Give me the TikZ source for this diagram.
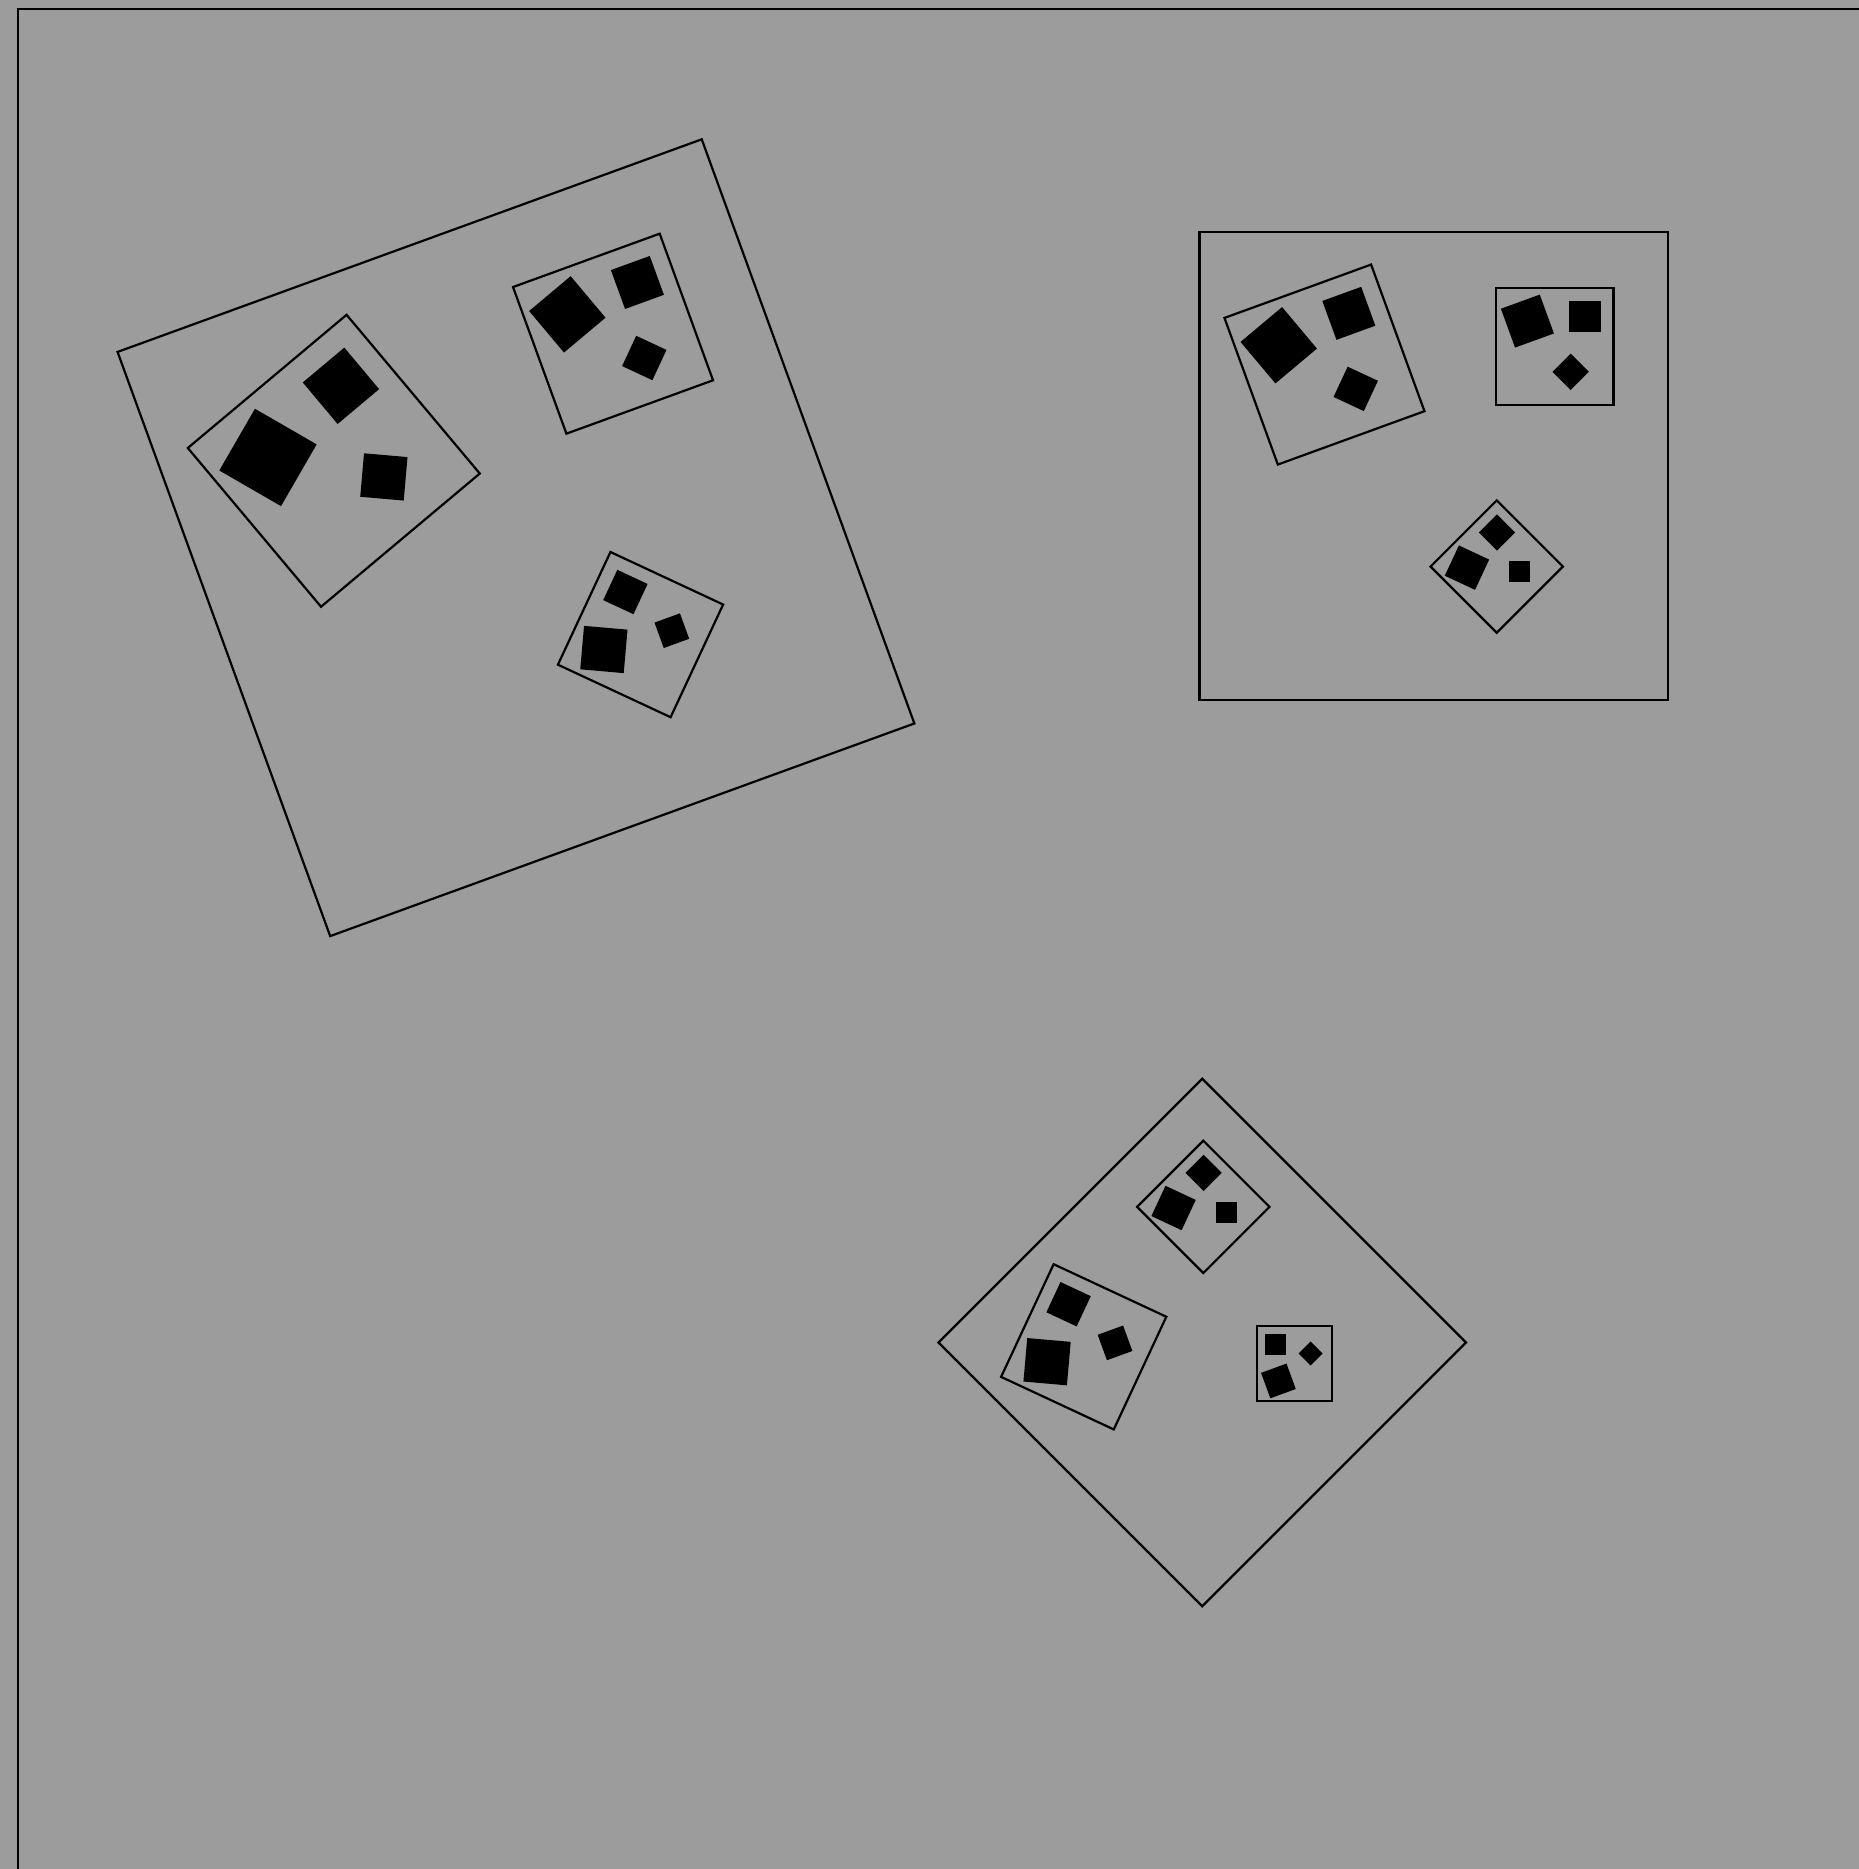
\documentclass[tikz,border=0pt]{standalone}
\usepackage{tikz}

\definecolor{paper}{RGB}{156,156,156}

\tikzset{
	sq/.style       = {draw=black, line width=0.022cm},
	sq solid/.style = {sq, fill=black},
	%--- the three maps of a square onto its parts ---
	partA/.style = {shift={(-0.233,0.2165)}, rotate=20, scale=1/3},
	partB/.style = {shift={(0.259,0.255)}, scale=0.251},
	partC/.style = {shift={(0.135,-0.215)}, rotate=45, scale=0.2}
}

% a square holding three solid squares
\newcommand{\sqcell}[1]{%
	\begin{scope}[#1]
		\draw[sq] (-.5,-.5) rectangle (.5,.5);
		\draw[sq solid, partA] (-.5,-.5) rectangle (.5,.5);
		\draw[sq solid, partB] (-.5,-.5) rectangle (.5,.5);
		\draw[sq solid, partC] (-.5,-.5) rectangle (.5,.5);
	\end{scope}}

\begin{document}
\begin{tikzpicture}
	%--- canvas ---
	\useasboundingbox (0,0) rectangle (18.59,18.69);
	\fill[paper] (0,0) rectangle (18.59,18.69);
	\clip (0,0) rectangle (18.59,18.69);
	
	%--- outer frame ---
	\begin{scope}[shift={(9.505,9.275)}, scale=18.65]
		\draw[sq] (-.5,-.5) rectangle (.5,.5);
		
		%--- upper left, turned 20 degrees ---
		\begin{scope}[partA]
			\draw[sq] (-.5,-.5) rectangle (.5,.5);
			\sqcell{partA}
			\sqcell{partB}
			\sqcell{partC}
		\end{scope}
		
		%--- upper right, upright ---
		\begin{scope}[partB]
			\draw[sq] (-.5,-.5) rectangle (.5,.5);
			\sqcell{partA}
			\sqcell{partB}
			\sqcell{partC}
		\end{scope}
		
		%--- lower, turned 45 degrees ---
		\begin{scope}[partC]
			\draw[sq] (-.5,-.5) rectangle (.5,.5);
			\sqcell{partA}
			\sqcell{partB}
			\sqcell{partC}
		\end{scope}
	\end{scope}
\end{tikzpicture}
\end{document}
